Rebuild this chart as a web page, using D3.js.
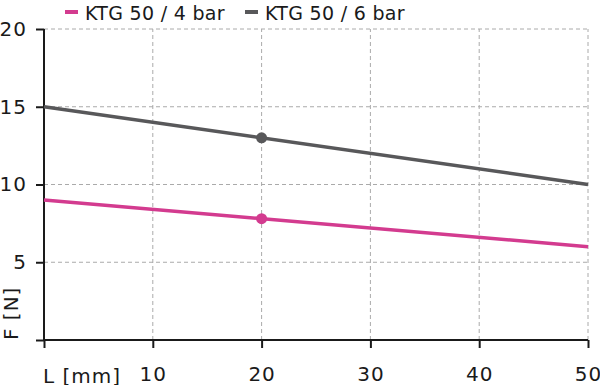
<!DOCTYPE html>
<html>
<head>
<meta charset="utf-8">
<script src="https://cdn.jsdelivr.net/npm/d3@7"></script>
<style>
  body { margin: 0; background: #fff; }
  svg { display: block; font-family: "DejaVu Sans", sans-serif; }
  svg text { letter-spacing: 1px; }
  svg text.legend { letter-spacing: 0.3px; }
</style>
</head>
<body>
<svg class="chart" width="600" height="385"></svg>
<script>
// data
const seriesNames = ["KTG 50 / 4 bar", "KTG 50 / 6 bar"];
const seriesColors = ["#d33b8f", "#58585a"];
const lengthValues = [0, 50];
const force4bar = [9, 6];
const force6bar = [15, 10];
const markerL = 20;
const marker4bar = 7.8;
const marker6bar = 13;
const xTicks = [10, 20, 30, 40, 50];
const yTicks = [5, 10, 15, 20];

const svg = d3.select(".chart");
const x = d3.scaleLinear().domain([0, 50]).range([44, 588]);
const y = d3.scaleLinear().domain([0, 20]).range([340, 29]);
const fontSize = 20;

/*
      Grid
*/
const grid = svg.append("g").attr("stroke", "#aaaaaa").attr("stroke-width", 1).attr("stroke-dasharray", "4,3");
grid.selectAll("line.h").data(yTicks).join("line").attr("class", "h")
  .attr("x1", x(0)).attr("x2", x(50)).attr("y1", d => y(d)).attr("y2", d => y(d));
grid.selectAll("line.v").data(xTicks).join("line").attr("class", "v")
  .attr("x1", d => x(d)).attr("x2", d => x(d)).attr("y1", y(0)).attr("y2", y(20));

/*
      Axes
*/
const xAxis = svg.append("g").attr("transform", `translate(0,${y(0)})`)
  .call(d3.axisBottom(x).tickValues([0].concat(xTicks)).tickSize(8).tickFormat(d => d === 0 ? "" : d));
const yAxis = svg.append("g").attr("transform", `translate(${x(0)},0)`)
  .call(d3.axisLeft(y).tickValues([0].concat(yTicks)).tickSize(8).tickFormat(d => d === 0 ? "" : d));
[xAxis, yAxis].forEach(a => {
  a.select(".domain").attr("stroke", "#1a1a1a").attr("stroke-width", 2);
  a.selectAll(".tick line").attr("stroke", "#1a1a1a").attr("stroke-width", 2);
  a.selectAll(".tick text").attr("fill", "#1a1a1a").attr("font-size", fontSize).attr("font-family", "DejaVu Sans");
});
xAxis.select(".domain").attr("d", `M${x(0)},0H${x(50)}`);
yAxis.select(".domain").attr("d", `M0,${y(0)}V${y(20)}`);
xAxis.selectAll(".tick text").attr("y", 27).attr("dy", "0.71em");
yAxis.selectAll(".tick text").attr("x", -17);

svg.append("text").attr("x", 43).attr("y", 383).attr("font-size", fontSize).attr("fill", "#1a1a1a").text("L [mm]");
svg.append("text").attr("transform", `translate(18,${y(0)}) rotate(-90)`).attr("font-size", fontSize).attr("fill", "#1a1a1a").text("F [N]");

/*
      Lines
*/
const line = d3.line().x(d => x(d[0])).y(d => y(d[1]));
const series = [force4bar, force6bar];
series.forEach((vals, i) => {
  svg.append("path").datum(lengthValues.map((l, j) => [l, vals[j]]))
    .attr("d", line).attr("fill", "none").attr("stroke", seriesColors[i]).attr("stroke-width", 3.5);
});
svg.append("circle").attr("cx", x(markerL)).attr("cy", y(marker4bar)).attr("r", 5.5).attr("fill", seriesColors[0]);
svg.append("circle").attr("cx", x(markerL)).attr("cy", y(marker6bar)).attr("r", 5.5).attr("fill", seriesColors[1]);

/*
      Legend
*/
const legendX = [65, 245];
seriesNames.forEach((name, i) => {
  svg.append("line").attr("x1", legendX[i]).attr("x2", legendX[i] + 13).attr("y1", 12).attr("y2", 12)
    .attr("stroke", seriesColors[i]).attr("stroke-width", 4);
  svg.append("text").attr("class", "legend").attr("x", legendX[i] + 20).attr("y", 20)
    .attr("font-size", 19).attr("fill", "#1a1a1a").text(name);
});
</script>
</body>
</html>
